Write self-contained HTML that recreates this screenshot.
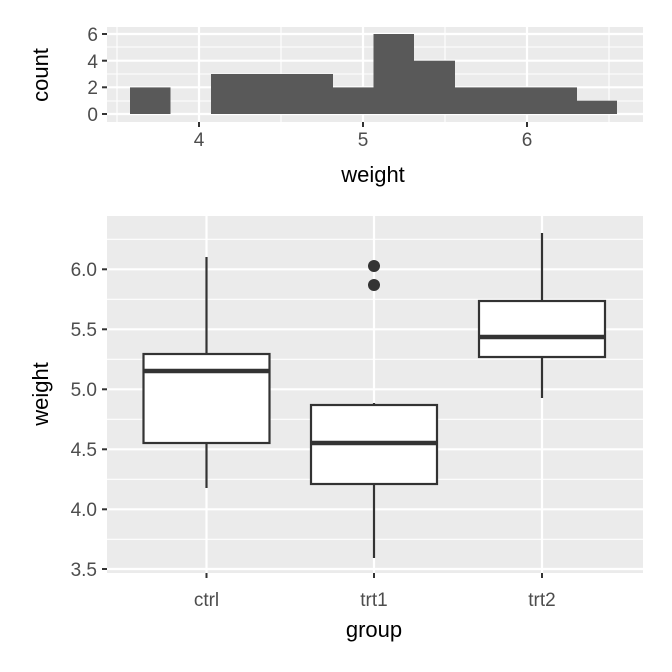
<!DOCTYPE html>
<html><head><style>body{margin:0;background:#fff}svg{display:block}</style></head><body>
<svg width="672" height="672" xmlns="http://www.w3.org/2000/svg" font-family="Liberation Sans, sans-serif">
<!-- top panel -->
<rect x="107" y="27" width="536" height="95" fill="#ebebeb"/>
<g stroke="#fff" stroke-width="1.1">
<line x1="107" x2="643" y1="47" y2="47"/><line x1="107" x2="643" y1="74" y2="74"/><line x1="107" x2="643" y1="101" y2="101"/>
<line x1="117" x2="117" y1="27" y2="122"/><line x1="281" x2="281" y1="27" y2="122"/><line x1="445" x2="445" y1="27" y2="122"/><line x1="609" x2="609" y1="27" y2="122"/>
</g>
<g stroke="#fff" stroke-width="2.2">
<line x1="107" x2="643" y1="34" y2="34"/><line x1="107" x2="643" y1="60.7" y2="60.7"/><line x1="107" x2="643" y1="87.3" y2="87.3"/><line x1="107" x2="643" y1="114" y2="114"/>
<line x1="199" x2="199" y1="27" y2="122"/><line x1="363" x2="363" y1="27" y2="122"/><line x1="527" x2="527" y1="27" y2="122"/>
</g>
<g fill="#595959">
<rect x="130" y="87.4" width="40.5" height="26.6"/>
<rect x="211" y="74" width="122" height="40"/>
<rect x="333" y="87.4" width="40.5" height="26.6"/>
<rect x="373.5" y="34" width="40.5" height="80"/>
<rect x="414" y="60.7" width="41" height="53.3"/>
<rect x="455" y="87.4" width="122" height="26.6"/>
<rect x="577" y="100.7" width="40" height="13.3"/>
</g>
<g stroke="#333" stroke-width="2">
<line x1="102" x2="107" y1="34" y2="34"/><line x1="102" x2="107" y1="60.7" y2="60.7"/><line x1="102" x2="107" y1="87.3" y2="87.3"/><line x1="102" x2="107" y1="114" y2="114"/>
<line x1="199" x2="199" y1="122" y2="127"/><line x1="363" x2="363" y1="122" y2="127"/><line x1="527" x2="527" y1="122" y2="127"/>
</g>
<g fill="#4d4d4d" font-size="19" text-anchor="end">
<text x="98" y="41">6</text><text x="98" y="68">4</text><text x="98" y="94">2</text><text x="98" y="121">0</text>
</g>
<g fill="#4d4d4d" font-size="19" text-anchor="middle">
<text x="199" y="146">4</text><text x="363" y="146">5</text><text x="527" y="146">6</text>
</g>
<text x="373" y="182" font-size="22" text-anchor="middle">weight</text>
<text transform="translate(48,75) rotate(-90)" font-size="22" text-anchor="middle">count</text>

<!-- bottom panel -->
<rect x="107" y="216" width="536" height="357" fill="#ebebeb"/>
<g stroke="#fff" stroke-width="1.1">
<line x1="107" x2="643" y1="239.3" y2="239.3"/><line x1="107" x2="643" y1="299.3" y2="299.3"/><line x1="107" x2="643" y1="359.3" y2="359.3"/><line x1="107" x2="643" y1="419.3" y2="419.3"/><line x1="107" x2="643" y1="479.3" y2="479.3"/><line x1="107" x2="643" y1="539.3" y2="539.3"/>
</g>
<g stroke="#fff" stroke-width="2.2">
<line x1="107" x2="643" y1="269.3" y2="269.3"/><line x1="107" x2="643" y1="329.3" y2="329.3"/><line x1="107" x2="643" y1="389.3" y2="389.3"/><line x1="107" x2="643" y1="449.3" y2="449.3"/><line x1="107" x2="643" y1="509.3" y2="509.3"/><line x1="107" x2="643" y1="569" y2="569"/>
<line x1="206.5" x2="206.5" y1="216" y2="573"/><line x1="374" x2="374" y1="216" y2="573"/><line x1="542" x2="542" y1="216" y2="573"/>
</g>
<g stroke="#333" stroke-width="2.2" fill="#fff">
<line x1="206.5" x2="206.5" y1="257" y2="354"/><line x1="206.5" x2="206.5" y1="443" y2="488"/>
<rect x="143.5" y="354" width="126" height="89"/>
<line x1="374" x2="374" y1="403" y2="405"/><line x1="374" x2="374" y1="484" y2="558"/>
<rect x="311" y="405" width="126" height="79"/>
<line x1="542" x2="542" y1="233" y2="301"/><line x1="542" x2="542" y1="357" y2="398"/>
<rect x="479" y="301" width="126" height="56"/>
</g>
<g stroke="#333" stroke-width="4.5">
<line x1="143.5" x2="269.5" y1="371" y2="371"/>
<line x1="311" x2="437" y1="443" y2="443"/>
<line x1="479" x2="605" y1="337" y2="337"/>
</g>
<circle cx="374" cy="266" r="6" fill="#333"/><circle cx="374" cy="285" r="6" fill="#333"/>
<g stroke="#333" stroke-width="2">
<line x1="102" x2="107" y1="269.3" y2="269.3"/><line x1="102" x2="107" y1="329.3" y2="329.3"/><line x1="102" x2="107" y1="389.3" y2="389.3"/><line x1="102" x2="107" y1="449.3" y2="449.3"/><line x1="102" x2="107" y1="509.3" y2="509.3"/><line x1="102" x2="107" y1="569" y2="569"/>
<line x1="206.5" x2="206.5" y1="573" y2="578"/><line x1="374" x2="374" y1="573" y2="578"/><line x1="542" x2="542" y1="573" y2="578"/>
</g>
<g fill="#4d4d4d" font-size="19" text-anchor="end">
<text x="97" y="276">6.0</text><text x="97" y="336">5.5</text><text x="97" y="396">5.0</text><text x="97" y="456">4.5</text><text x="97" y="516">4.0</text><text x="97" y="576">3.5</text>
</g>
<g fill="#4d4d4d" font-size="19" text-anchor="middle">
<text x="206.5" y="606">ctrl</text><text x="374" y="606">trt1</text><text x="542" y="606">trt2</text>
</g>
<text x="374" y="637" font-size="22" text-anchor="middle">group</text>
<text transform="translate(48,394) rotate(-90)" font-size="22" text-anchor="middle">weight</text>
</svg>
</body></html>
